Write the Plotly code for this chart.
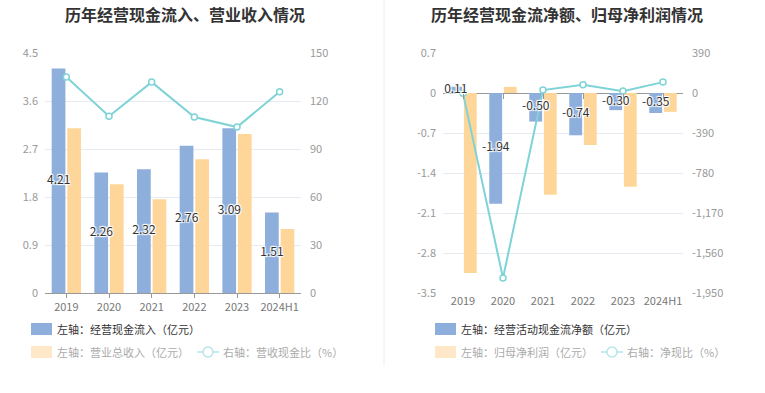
import plotly.graph_objects as go

# ---------------- data ----------------
years = ["2019", "2020", "2021", "2022", "2023", "2024H1"]

# left chart
cash_inflow = [4.21, 2.26, 2.32, 2.76, 3.09, 1.51]          # 经营现金流入（亿元）
revenue = [3.09, 2.04, 1.76, 2.51, 2.98, 1.20]              # 营业总收入（亿元）
cash_ratio = [135.0, 110.5, 131.8, 110.0, 103.7, 125.8]     # 营收现金比（%）

# right chart
net_cash_flow = [0.11, -1.94, -0.50, -0.74, -0.30, -0.35]   # 经营活动现金流净额（亿元）
net_profit = [-3.15, 0.107, -1.78, -0.91, -1.64, -0.33]     # 归母净利润（亿元）
net_ratio = [-3.5, -1804.0, 28.1, 81.3, 18.3, 106.1]        # 净现比（%）

# tick labels
left_y_ticks = [0, 0.9, 1.8, 2.7, 3.6, 4.5]
left_y_text = ["0", "0.9", "1.8", "2.7", "3.6", "4.5"]
left_y2_ticks = [0, 30, 60, 90, 120, 150]
left_y2_text = ["0", "30", "60", "90", "120", "150"]
right_y_ticks = [0.7, 0, -0.7, -1.4, -2.1, -2.8, -3.5]
right_y_text = ["0.7", "0", "-0.7", "-1.4", "-2.1", "-2.8", "-3.5"]
right_y2_ticks = [390, 0, -390, -780, -1170, -1560, -1950]
right_y2_text = ["390", "0", "-390", "-780", "-1,170", "-1,560", "-1,950"]

# ---------------- style ----------------
W, H = 765, 393
FONT = "Noto Sans CJK SC"
BLUE = "#8EAFDC"
ORANGE = "#FFD699"
CYAN = "#7ED3D7"
GRID = "#E6EAF2"
AXIS_TXT = "#999999"
SHADOW = "1px 1px 1px #fff, -1px -1px 1px #fff, 1px -1px 1px #fff, -1px 1px 1px #fff, 0 0 2px #fff"


def px_x(v):
    return v / W


def px_y(v):
    return 1 - v / H


fig = go.Figure()

label_font = dict(family=FONT, size=12, color="#333333", shadow=SHADOW)

# left chart traces
fig.add_trace(go.Bar(x=years, y=cash_inflow, marker_color=BLUE, xaxis="x", yaxis="y",
                     showlegend=False, hoverinfo="skip"))
fig.add_trace(go.Bar(x=years, y=revenue, marker_color=ORANGE, xaxis="x", yaxis="y",
                     showlegend=False, hoverinfo="skip"))
fig.add_trace(go.Scatter(x=years, y=cash_ratio, xaxis="x", yaxis="y2", mode="lines+markers",
                         line=dict(color=CYAN, width=2),
                         marker=dict(symbol="circle", size=6, color="white",
                                     line=dict(color=CYAN, width=1.5)),
                         showlegend=False, hoverinfo="skip"))

# right chart traces
fig.add_trace(go.Bar(x=years, y=net_cash_flow, marker_color=BLUE, xaxis="x2", yaxis="y3",
                     showlegend=False, hoverinfo="skip"))
fig.add_trace(go.Bar(x=years, y=net_profit, marker_color=ORANGE, xaxis="x2", yaxis="y3",
                     showlegend=False, hoverinfo="skip"))
fig.add_trace(go.Scatter(x=years, y=net_ratio, xaxis="x2", yaxis="y4", mode="lines+markers",
                         line=dict(color=CYAN, width=2),
                         marker=dict(symbol="circle", size=6, color="white",
                                     line=dict(color=CYAN, width=1.5)),
                         showlegend=False, cliponaxis=False, hoverinfo="skip"))

# value labels centred in the blue bars (blue bar is the left bar of each group)
LBL_SHIFT = -0.18
fig.add_trace(go.Scatter(x=[i + LBL_SHIFT for i in range(len(years))],
                         y=[v / 2 for v in cash_inflow], xaxis="x3", yaxis="y",
                         mode="text", text=[f"{v:.2f}" for v in cash_inflow],
                         textposition="middle center", textfont=label_font,
                         showlegend=False, hoverinfo="skip", cliponaxis=False))
fig.add_trace(go.Scatter(x=[i + LBL_SHIFT for i in range(len(years))],
                         y=[v / 2 for v in net_cash_flow], xaxis="x4", yaxis="y3",
                         mode="text", text=[f"{v:.2f}" for v in net_cash_flow],
                         textposition="middle center", textfont=label_font,
                         showlegend=False, hoverinfo="skip", cliponaxis=False))

L_X0, L_X1 = 45, 301
R_X0, R_X1 = 443, 683
Y_TOP, Y_BOT = 53, 293
ZERO_Y = 93

tickfont_y = dict(family=FONT, size=11, color=AXIS_TXT)
tickfont_x = dict(family=FONT, size=11, color="#777777")

fig.update_layout(
    template="none",
    width=W, height=H,
    margin=dict(l=0, r=0, t=0, b=0, pad=0),
    paper_bgcolor="white", plot_bgcolor="white",
    barmode="group", bargap=0.27, bargroupgap=0.12,
    font=dict(family=FONT),
    hovermode=False,
    xaxis=dict(domain=[px_x(L_X0), px_x(L_X1)], anchor="y", type="category",
               showline=True, linecolor="#999999", linewidth=1,
               ticks="outside", ticklen=4, tickcolor="#999999",
               tickfont=tickfont_x, showgrid=False, zeroline=False, automargin=False),
    yaxis=dict(domain=[px_y(Y_BOT), px_y(Y_TOP)], anchor="x", range=[0, 4.5],
               tickmode="array", tickvals=left_y_ticks, ticktext=left_y_text,
               tickfont=tickfont_y, showgrid=True, gridcolor=GRID, gridwidth=1,
               zeroline=False, showline=False, ticks="", ticklabelstandoff=6,
               automargin=False),
    yaxis2=dict(overlaying="y", side="right", anchor="x", range=[0, 150],
                tickmode="array", tickvals=left_y2_ticks, ticktext=left_y2_text,
                tickfont=tickfont_y, showgrid=False, zeroline=False, showline=False,
                ticks="", ticklabelstandoff=8, automargin=False),
    xaxis3=dict(overlaying="x", anchor="y", range=[-0.5, len(years) - 0.5],
                showticklabels=False, showgrid=False, zeroline=False, showline=False,
                ticks="", automargin=False),
    xaxis2=dict(domain=[px_x(R_X0), px_x(R_X1)], anchor="y3", type="category",
                showline=False, ticks="", tickfont=tickfont_x, showgrid=False,
                zeroline=False, automargin=False),
    yaxis3=dict(domain=[px_y(Y_BOT), px_y(Y_TOP)], anchor="x2", range=[-3.5, 0.7],
                tickmode="array", tickvals=right_y_ticks, ticktext=right_y_text,
                tickfont=tickfont_y, showgrid=True, gridcolor=GRID, gridwidth=1,
                zeroline=True, zerolinecolor="#999999", zerolinewidth=1,
                showline=False, ticks="", ticklabelstandoff=6, automargin=False),
    yaxis4=dict(overlaying="y3", side="right", anchor="x2", range=[-1950, 390],
                tickmode="array", tickvals=right_y2_ticks, ticktext=right_y2_text,
                tickfont=tickfont_y, showgrid=False, zeroline=False, showline=False,
                ticks="", ticklabelstandoff=8, automargin=False),
    # helper axis: draws the category ticks on the right chart's zero line
    xaxis4=dict(overlaying="x2", anchor="free", position=px_y(ZERO_Y),
                range=[-0.5, len(years) - 0.5], tickmode="array",
                tickvals=list(range(len(years))), ticks="outside", ticklen=5,
                tickcolor="#999999", showticklabels=False, showgrid=False,
                zeroline=False, showline=False, automargin=False),
)

shapes = []
annotations = []

# divider
shapes.append(dict(type="line", xref="paper", yref="paper", x0=px_x(384), x1=px_x(384),
                   y0=px_y(0), y1=px_y(366), line=dict(color="#EEEEEE", width=1)))

# titles
annotations.append(dict(x=px_x(185), y=px_y(14), xref="paper", yref="paper",
                        text="<b>历年经营现金流入、营业收入情况</b>", showarrow=False,
                        font=dict(family=FONT, size=16, color="#333333"),
                        xanchor="center", yanchor="middle"))
annotations.append(dict(x=px_x(567), y=px_y(14), xref="paper", yref="paper",
                        text="<b>历年经营现金流净额、归母净利润情况</b>", showarrow=False,
                        font=dict(family=FONT, size=16, color="#333333"),
                        xanchor="center", yanchor="middle"))


def legend_rect(x0, yc, color):
    shapes.append(dict(type="rect", xref="paper", yref="paper",
                       x0=px_x(x0), x1=px_x(x0 + 21), y0=px_y(yc + 6), y1=px_y(yc - 6),
                       fillcolor=color, line=dict(width=0), layer="above"))


def legend_line(x0, yc, color):
    shapes.append(dict(type="line", xref="paper", yref="paper",
                       x0=px_x(x0), x1=px_x(x0 + 22), y0=px_y(yc), y1=px_y(yc),
                       line=dict(color=color, width=1.5)))
    shapes.append(dict(type="circle", xref="paper", yref="paper",
                       x0=px_x(x0 + 6), x1=px_x(x0 + 16), y0=px_y(yc + 5), y1=px_y(yc - 5),
                       fillcolor="white", line=dict(color=color, width=1.5)))


def legend_text(x, yc, text, color):
    annotations.append(dict(x=px_x(x), y=px_y(yc), xref="paper", yref="paper", text=text,
                            showarrow=False, xanchor="left", yanchor="middle",
                            font=dict(family=FONT, size=11, color=color)))


LEG_BLUE = "#8EAFDC"
LEG_ORANGE = "#FFE8C8"
LEG_CYAN = "#B5E6E8"

# left legend
legend_rect(31, 329, LEG_BLUE)
legend_text(55, 329, "左轴：经营现金流入（亿元）", "#333333")
legend_rect(31, 352, LEG_ORANGE)
legend_text(55, 352, "左轴：营业总收入（亿元）", "#AAAAAA")
legend_line(197, 352, LEG_CYAN)
legend_text(221, 352, "右轴：营收现金比（%）", "#AAAAAA")

# right legend
legend_rect(435, 329, LEG_BLUE)
legend_text(459, 329, "左轴：经营活动现金流净额（亿元）", "#333333")
legend_rect(435, 352, LEG_ORANGE)
legend_text(459, 352, "左轴：归母净利润（亿元）", "#AAAAAA")
legend_line(601, 352, LEG_CYAN)
legend_text(625, 352, "右轴：净现比（%）", "#AAAAAA")

fig.update_layout(shapes=shapes, annotations=annotations)

fig.write_html("out.html", config={"displayModeBar": False, "staticPlot": True},
               post_script="document.body.style.margin='0';")
